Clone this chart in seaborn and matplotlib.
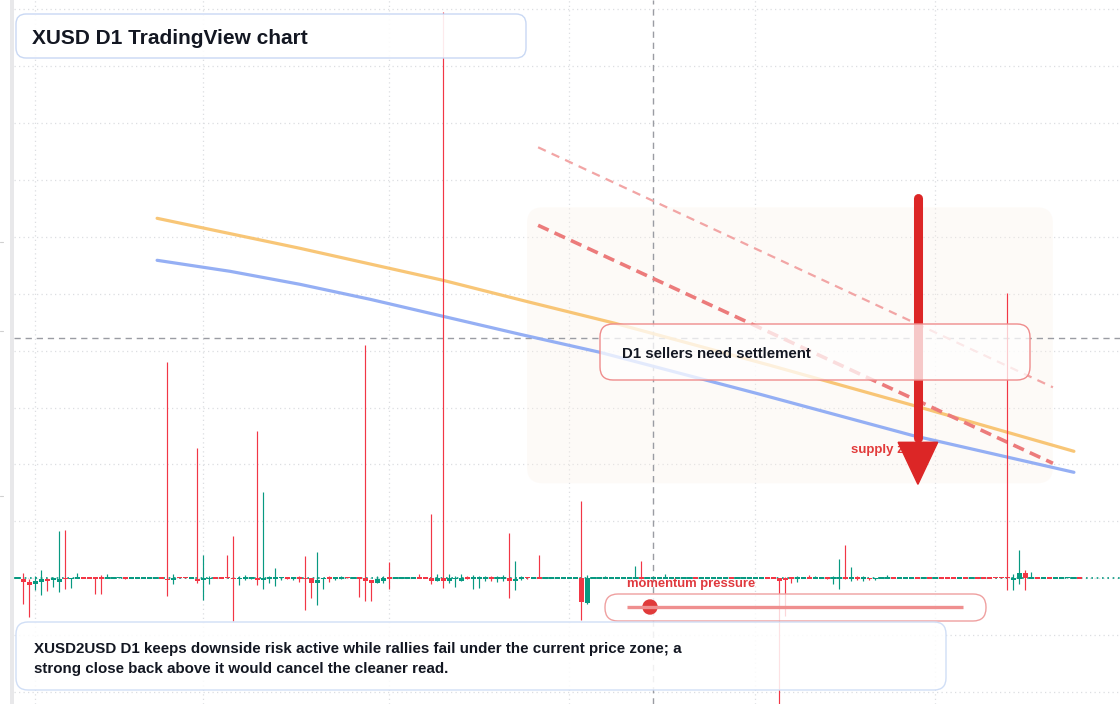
import numpy as np
import pandas as pd
import matplotlib
matplotlib.use("Agg")
import matplotlib.pyplot as plt
import matplotlib.dates as mdates
from matplotlib.patches import FancyBboxPatch, Circle, Polygon
import seaborn as sns

# ---------------- data ----------------
dates = pd.date_range("2025-01-29", periods=178, freq="D")

opens = [
    1.0000, 0.9993, 0.9967, 0.9940, 0.9967, 0.9993, 0.9990, 0.9967, 1.0000, 0.9993,
    1.0000, 1.0003, 1.0003, 1.0003, 1.0003, 1.0000, 1.0000, 1.0000, 1.0003, 1.0000,
    1.0000, 1.0000, 1.0000, 1.0000, 1.0003, 0.9997, 0.9983, 1.0013, 1.0013, 1.0000,
    0.9997, 0.9987, 0.9997, 1.0003, 1.0003, 1.0013, 1.0000, 0.9997, 1.0000, 1.0000,
    1.0000, 0.9983, 1.0000, 1.0000, 1.0000, 1.0007, 1.0000, 1.0003, 1.0000, 1.0000,
    0.9957, 0.9997, 1.0003, 1.0000, 1.0000, 1.0013, 1.0000, 1.0003, 1.0000, 0.9983,
    0.9957, 0.9977, 1.0003, 1.0000, 1.0000, 1.0000, 1.0000, 1.0003, 1.0003, 1.0000,
    0.9977, 1.0000, 0.9977, 0.9997, 0.9977, 1.0003, 1.0000, 1.0000, 1.0000, 1.0003,
    1.0000, 1.0000, 1.0000, 0.9977, 1.0000, 1.0010, 1.0000, 1.0003, 1.0000, 1.0000,
    1.0000, 1.0000, 1.0000, 1.0000, 1.0000, 0.9757, 1.0000, 1.0000, 1.0000, 1.0000,
    1.0000, 1.0000, 1.0000, 1.0000, 1.0003, 1.0000, 1.0000, 1.0000, 1.0000, 1.0000,
    1.0000, 1.0000, 1.0000, 1.0003, 1.0000, 1.0000, 1.0000, 1.0000, 1.0000, 1.0003,
    1.0000, 1.0000, 1.0000, 1.0000, 1.0000, 1.0003, 1.0003, 1.0000, 1.0000, 1.0003,
    1.0000, 1.0000, 1.0003, 1.0000, 1.0000, 1.0003, 0.9993, 1.0000, 1.0013, 1.0000,
    1.0003, 1.0000, 1.0000, 0.9997, 1.0000, 1.0000, 1.0003, 1.0000, 1.0000, 1.0000,
    1.0003, 1.0000, 1.0003, 1.0000, 1.0003, 1.0003, 1.0003, 1.0000, 1.0003, 1.0000,
    1.0003, 1.0003, 1.0003, 1.0013, 1.0013, 1.0010, 0.9987, 0.9990, 1.0053, 1.0000,
    1.0003, 1.0000, 1.0003, 1.0000, 1.0000, 1.0000, 1.0000, 1.0003,
]
highs = [
    1.0013, 1.0056, 0.9990, 1.0020, 1.0083, 1.0000, 1.0010, 1.0470, 1.0480, 1.0000,
    1.0057, 1.0003, 1.0017, 1.0003, 1.0037, 1.0047, 1.0017, 1.0013, 1.0013, 1.0003,
    1.0003, 1.0013, 1.0003, 1.0003, 1.0003, 1.2160, 1.0043, 1.0013, 1.0013, 1.0003,
    1.1300, 1.0233, 1.0023, 1.0013, 1.0013, 1.0233, 1.0420, 1.0023, 1.0033, 1.0010,
    1.1470, 1.0860, 1.0023, 1.0103, 1.0013, 1.0007, 1.0013, 1.0023, 1.0220, 1.0000,
    1.0263, 1.0007, 1.0023, 1.0007, 1.0020, 1.0013, 1.0003, 1.0003, 1.2330, 0.9983,
    1.0023, 1.0023, 1.0163, 1.0003, 1.0013, 1.0003, 1.0013, 1.0043, 1.0013, 1.0640,
    1.0043, 1.5660, 1.0043, 1.0027, 1.0043, 1.0023, 1.0033, 1.0023, 1.0023, 1.0023,
    1.0023, 1.0033, 1.0450, 1.0177, 1.0023, 1.0010, 1.0003, 1.0233, 1.0003, 1.0003,
    1.0003, 1.0003, 1.0003, 1.0013, 1.0770, 1.0033, 1.0003, 1.0003, 1.0027, 1.0003,
    1.0013, 1.0003, 1.0003, 1.0123, 1.0173, 1.0003, 1.0003, 1.0003, 1.0043, 1.0003,
    1.0003, 1.0003, 1.0003, 1.0003, 1.0003, 1.0003, 1.0003, 1.0003, 1.0003, 1.0003,
    1.0003, 1.0003, 1.0003, 1.0003, 1.0003, 1.0013, 1.0013, 1.0000, 1.0013, 1.0013,
    1.0023, 1.0013, 1.0037, 1.0023, 1.0003, 1.0013, 1.0023, 1.0193, 1.0333, 1.0113,
    1.0023, 1.0023, 1.0000, 1.0007, 1.0010, 1.0037, 1.0003, 1.0003, 1.0003, 1.0003,
    1.0003, 1.0003, 1.0003, 1.0003, 1.0003, 1.0003, 1.0003, 1.0003, 1.0013, 1.0003,
    1.0013, 1.0003, 1.0003, 1.0013, 1.0013, 1.2850, 1.0047, 1.0283, 1.0083, 1.0063,
    1.0003, 1.0003, 1.0010, 1.0003, 1.0003, 1.0010, 1.0003, 1.0003,
]
lows = [
    1.0000, 0.9743, 0.9610, 0.9880, 0.9830, 0.9875, 0.9910, 0.9863, 0.9890, 0.9907,
    1.0000, 1.0000, 1.0000, 0.9840, 0.9840, 1.0000, 1.0000, 1.0000, 0.9990, 1.0000,
    1.0000, 1.0000, 1.0000, 1.0000, 1.0000, 0.9820, 0.9947, 1.0003, 1.0007, 1.0000,
    0.9953, 0.9783, 0.9940, 1.0000, 1.0000, 1.0000, 0.9570, 0.9937, 0.9980, 0.9993,
    0.9933, 0.9893, 0.9957, 0.9923, 0.9987, 0.9993, 0.9980, 0.9963, 0.9680, 0.9807,
    0.9733, 0.9893, 0.9963, 0.9987, 0.9993, 1.0000, 1.0000, 0.9810, 0.9777, 0.9777,
    0.9957, 0.9950, 0.9893, 1.0000, 1.0000, 1.0000, 1.0000, 1.0000, 1.0000, 0.9947,
    0.9977, 0.9907, 0.9957, 0.9917, 0.9977, 0.9990, 0.9893, 0.9907, 0.9977, 0.9977,
    0.9963, 0.9977, 0.9807, 0.9883, 0.9987, 0.9993, 1.0000, 1.0000, 1.0000, 1.0000,
    1.0000, 1.0000, 1.0000, 1.0000, 0.9580, 0.9743, 1.0000, 1.0000, 1.0000, 1.0000,
    1.0000, 1.0000, 1.0000, 1.0000, 0.9993, 1.0000, 1.0000, 1.0000, 1.0000, 1.0000,
    1.0000, 1.0000, 1.0000, 1.0000, 1.0000, 1.0000, 1.0000, 1.0000, 1.0000, 1.0000,
    1.0000, 1.0000, 1.0000, 1.0000, 1.0000, 1.0000, 1.0000, 0.8720, 0.9620, 0.9957,
    0.9963, 1.0000, 1.0000, 1.0000, 1.0000, 0.9993, 0.9947, 0.9893, 0.9993, 0.9977,
    0.9983, 0.9977, 0.9983, 0.9987, 1.0000, 1.0000, 1.0000, 1.0000, 1.0000, 1.0000,
    1.0000, 1.0000, 1.0000, 1.0000, 1.0000, 1.0000, 1.0000, 1.0000, 1.0000, 1.0000,
    1.0000, 1.0000, 1.0000, 1.0000, 1.0000, 0.9883, 0.9883, 0.9940, 0.9883, 1.0000,
    1.0000, 1.0000, 1.0000, 1.0000, 1.0000, 1.0000, 1.0000, 1.0000,
]
closes = [
    1.0003, 0.9967, 0.9937, 0.9973, 0.9993, 0.9977, 0.9995, 0.9993, 0.9993, 0.9997,
    1.0003, 1.0000, 1.0000, 1.0000, 1.0000, 1.0003, 1.0003, 1.0013, 1.0000, 1.0003,
    1.0003, 1.0003, 1.0003, 1.0003, 1.0000, 0.9983, 1.0000, 1.0003, 1.0007, 1.0003,
    0.9973, 1.0000, 1.0000, 1.0000, 1.0000, 1.0000, 0.9993, 1.0000, 1.0003, 1.0003,
    0.9983, 1.0007, 1.0003, 1.0003, 1.0013, 1.0000, 1.0003, 1.0000, 0.9993, 0.9957,
    0.9987, 1.0000, 1.0000, 1.0003, 1.0003, 1.0000, 1.0003, 1.0000, 0.9977, 0.9957,
    0.9993, 1.0007, 1.0000, 1.0003, 1.0003, 1.0003, 1.0003, 1.0000, 1.0000, 0.9977,
    1.0000, 0.9977, 1.0000, 1.0000, 1.0000, 1.0000, 1.0003, 1.0003, 1.0003, 1.0000,
    1.0003, 1.0003, 0.9977, 0.9993, 1.0003, 1.0000, 1.0003, 1.0000, 1.0003, 1.0003,
    1.0003, 1.0003, 1.0003, 1.0003, 0.9767, 1.0000, 1.0003, 1.0003, 1.0003, 1.0003,
    1.0003, 1.0003, 1.0003, 1.0003, 1.0000, 1.0003, 1.0003, 1.0003, 1.0003, 1.0003,
    1.0003, 1.0003, 1.0003, 1.0000, 1.0003, 1.0003, 1.0003, 1.0003, 1.0003, 1.0000,
    1.0003, 1.0003, 1.0003, 1.0003, 1.0003, 1.0000, 1.0000, 0.9977, 0.9987, 1.0000,
    1.0003, 1.0003, 1.0000, 1.0003, 1.0003, 1.0000, 1.0010, 1.0003, 0.9993, 1.0003,
    1.0000, 1.0003, 0.9997, 1.0003, 1.0003, 1.0003, 1.0000, 1.0003, 1.0003, 1.0003,
    1.0000, 1.0003, 1.0000, 1.0003, 1.0000, 1.0000, 1.0000, 1.0003, 1.0000, 1.0003,
    1.0000, 1.0000, 1.0000, 1.0000, 1.0000, 1.0000, 1.0000, 1.0053, 1.0000, 1.0003,
    1.0000, 1.0003, 1.0000, 1.0003, 1.0003, 1.0010, 1.0003, 1.0000,
]

# drawn guide lines: (bar index, price)
orange_idx = [23.3, 47.1, 70.95, 85.45, 99.6, 125.45, 150.45, 176.1]
orange_px = [1.360, 1.330, 1.298, 1.276, 1.255, 1.213, 1.171, 1.127]
blue_idx = [23.3, 35.45, 47.1, 58.8, 70.95, 83.8, 97.1, 123.8, 149.1, 176.1]
blue_px = [1.318, 1.307, 1.294, 1.279, 1.262, 1.244, 1.226, 1.184, 1.143, 1.106]
trend_idx = [86.8, 172.6]
trend_px = [1.353, 1.115]
upper_px = [1.431, 1.191]
zone_idx = [84.95, 172.6]
zone_px = [1.095, 1.371]
arrow_idx = 150.1
arrow_top, arrow_base, arrow_tip = 1.380, 1.136, 1.094
crosshair_idx = 106
crosshair_px = 1.240
supply_label_pos = (138.9, 1.1255)

title = "XUSD D1 TradingView chart"
callout = "D1 sellers need settlement"
note_lines = ["XUSD2USD D1 keeps downside risk active while rallies fail under the current price zone; a",
              "strong close back above it would cancel the cleaner read."]

UP, DOWN = "#089981", "#f23645"
INK = "#131722"

# ---------------- figure ----------------
sns.set_theme(style="white")
plt.rcParams["font.family"] = ["Liberation Sans", "DejaVu Sans"]

W, H = 1120, 704
fig = plt.figure(figsize=(W / 100, H / 100), dpi=100)
fig.patch.set_facecolor("white")
ax = fig.add_axes([14 / W, 0, (W - 14) / W, 1])
ax.set_facecolor("white")

x0 = mdates.date2num(dates[0])
xs = mdates.date2num(dates)
o = np.array(opens); h = np.array(highs); l = np.array(lows); c = np.array(closes)
up = c >= o
cols = np.where(up, UP, DOWN)

ax.set_xlim(x0 - 0.55, x0 + 183.78)
ax.set_ylim(0.8743, 1.5783)

# grid
ax.xaxis.set_major_locator(mdates.MonthLocator())
ax.yaxis.set_major_locator(matplotlib.ticker.FixedLocator(1.0 + 0.0569 * np.arange(-3, 12)))
ax.grid(True, color="#dcdee1", linestyle=(0, (1, 2.6)), linewidth=0.9, zorder=0)
ax.set_axisbelow(True)
ax.tick_params(left=False, bottom=False, labelleft=False, labelbottom=False)
for s in ax.spines.values():
    s.set_visible(False)

# faint zone
zx = x0 + zone_idx[0]
zone = FancyBboxPatch((zx, zone_px[0]), zone_idx[1] - zone_idx[0], zone_px[1] - zone_px[0],
                      boxstyle="round,pad=0,rounding_size=2.6", mutation_aspect=0.006,
                      facecolor="#fbf1e7", edgecolor="none", alpha=0.3, zorder=1)
ax.add_patch(zone)

# crosshair
ax.axvline(x0 + crosshair_idx, color="#9a9ca3", lw=1.0, ls=(0, (4.5, 3.5)), zorder=1.5)
ax.axhline(crosshair_px, color="#9a9ca3", lw=1.0, ls=(0, (4.5, 3.5)), zorder=1.5)

# guide lines via seaborn
sns.lineplot(x=[x0 + v for v in orange_idx], y=orange_px, ax=ax, color="#f8c068",
             lw=2.3, alpha=0.9, sort=False, estimator=None, zorder=2)
sns.lineplot(x=[x0 + v for v in blue_idx], y=blue_px, ax=ax, color="#8fabf4",
             lw=2.3, alpha=0.95, sort=False, estimator=None, zorder=2)
ax.plot([x0 + v for v in trend_idx], upper_px, color="#f2a5a5", lw=1.6,
        ls=(0, (3.8, 2.9)), zorder=2)
ax.plot([x0 + v for v in trend_idx], trend_px, color="#ec7b7b", lw=2.6,
        ls=(0, (3.2, 1.8)), zorder=2)

# last price line
ax.axhline(closes[-1], color=UP, lw=1.2, ls=(0, (1, 2.2)), zorder=2.4)

# candles
ax.vlines(xs, l, h, colors=cols, lw=0.85, zorder=3)
minh = 0.0013
body_lo = np.minimum(o, c)
body_h = np.abs(c - o)
small = body_h < minh
body_lo = np.where(small, (o + c) / 2 - minh / 2, body_lo)
body_h = np.where(small, minh, body_h)
ax.bar(xs, body_h, bottom=body_lo, width=0.78, color=cols, linewidth=0, zorder=3.1)

# supply label + arrow
ax.text(x0 + supply_label_pos[0], supply_label_pos[1], "supply zone", color="#e23b3b",
        fontsize=9.5, fontweight="bold", ha="left", va="baseline", zorder=4)
ax.plot([x0 + arrow_idx, x0 + arrow_idx], [arrow_top, arrow_base + 0.004], color="#dc2626",
        lw=6.5, solid_capstyle="round", zorder=5)
hw = 3.3
ax.add_patch(Polygon([(x0 + arrow_idx - hw, arrow_base), (x0 + arrow_idx + hw, arrow_base),
                      (x0 + arrow_idx, arrow_tip)], closed=True, color="#dc2626", zorder=5))

# ---------------- overlay (pixel layout) ----------------
ov = fig.add_axes([0, 0, 1, 1], zorder=10)
ov.set_xlim(0, W)
ov.set_ylim(H, 0)
ov.axis("off")
ov.patch.set_alpha(0)

ov.add_patch(plt.Rectangle((10, 0), 4, H, color="#e8e8ea", lw=0))
for ty in (242, 331, 496):
    ov.plot([0, 3], [ty, ty], color="#d0d0d0", lw=0.8)

def box(x, y, w, hh, ec, fc_alpha, r):
    ov.add_patch(FancyBboxPatch((x, y), w, hh, boxstyle=f"round,pad=0,rounding_size={r}",
                                facecolor=(1, 1, 1, fc_alpha), edgecolor=ec, lw=1.0))

box(16, 14, 510, 44, "#c9d8f4", 0.9, 10)
ov.text(32, 43.5, title, fontsize=15, fontweight="bold", color=INK, va="baseline", ha="left")

box(600, 324, 430, 56, "#ef8c8c", 0.75, 13)
ov.text(622, 358.5, callout, fontsize=10.8, fontweight="bold", color=INK, va="baseline", ha="left")

ov.text(627, 587, "momentum pressure", fontsize=9.4, fontweight="bold", color="#e0393e",
        va="baseline", ha="left")
box(605, 594, 381, 27, "#efa0a0", 0.8, 13)
ov.plot([627, 963], [607, 607], color="#ef8f8f", lw=2.4, solid_capstyle="butt")
ov.add_patch(Circle((650, 607), 7, color="#e03a3a"))

box(16, 622, 930, 68, "#d0def6", 0.86, 12)
ov.text(34, 652.5, note_lines[0], fontsize=10.9, fontweight="bold", color=INK, va="baseline", ha="left")
ov.text(34, 672.5, note_lines[1], fontsize=10.9, fontweight="bold", color=INK, va="baseline", ha="left")

fig.savefig("out.png", dpi=100, facecolor="white")
